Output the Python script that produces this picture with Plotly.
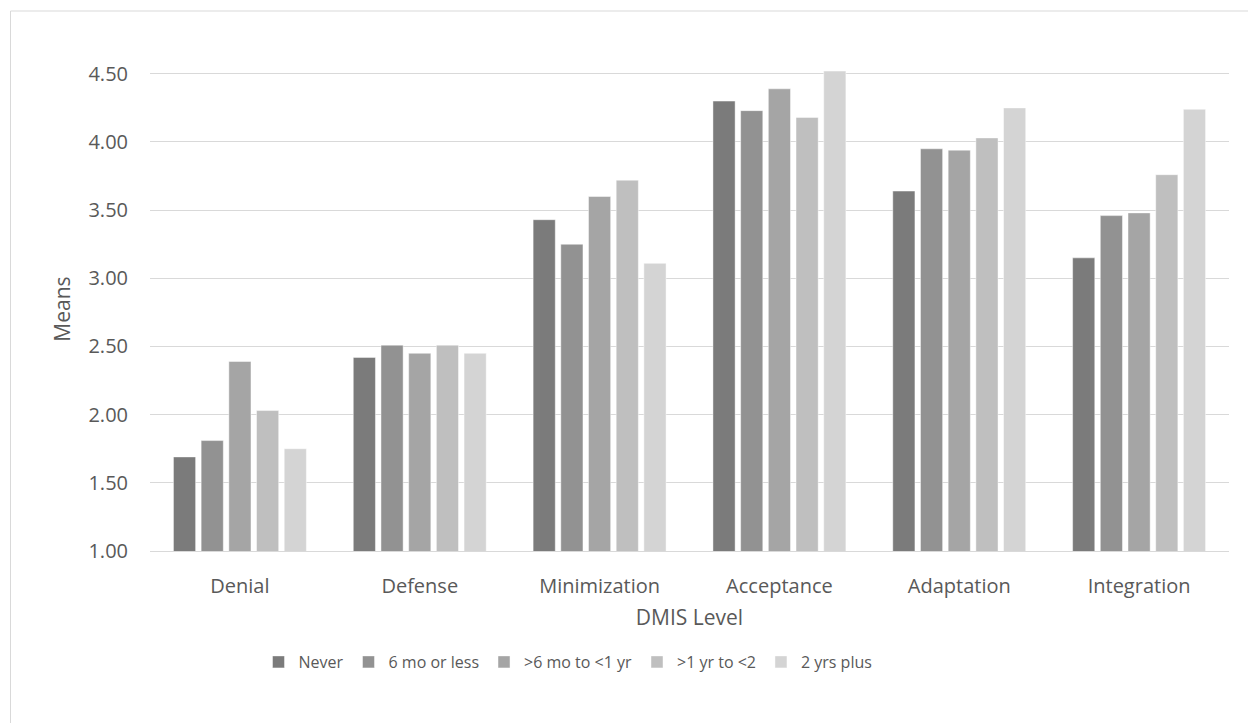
import plotly.graph_objects as go

# DMIS levels on the category axis
levels = ["Denial", "Defense", "Minimization", "Acceptance", "Adaptation", "Integration"]

# Mean scores per time-abroad group
never = [1.69, 2.42, 3.43, 4.30, 3.64, 3.15]
six_mo_or_less = [1.81, 2.51, 3.25, 4.23, 3.95, 3.46]
six_mo_to_1yr = [2.39, 2.45, 3.60, 4.39, 3.94, 3.48]
one_to_2yr = [2.03, 2.51, 3.72, 4.18, 4.03, 3.76]
two_yrs_plus = [1.75, 2.45, 3.11, 4.52, 4.25, 4.24]

series_names = ["Never", "6 mo or less", ">6 mo to <1 yr", ">1 yr to <2", "2 yrs plus"]
series_values = [never, six_mo_or_less, six_mo_to_1yr, one_to_2yr, two_yrs_plus]
series_colors = ["#7b7b7b", "#929292", "#a5a5a5", "#bfbfbf", "#d4d4d4"]

y_ticks = [1.0, 1.5, 2.0, 2.5, 3.0, 3.5, 4.0, 4.5]

FONT = "Open Sans"
TEXT = "#595959"
GRID = "#d9d9d9"

fig = go.Figure()
for name, vals, col in zip(series_names, series_values, series_colors):
    fig.add_trace(go.Bar(
        x=levels, y=vals, name=name,
        marker=dict(color=col, line=dict(color="rgba(255,255,255,0.45)", width=1)),
    ))

W, H = 1248, 723
L, R, T, B = 150, 19, 67, 172
pw, ph = W - L - R, H - T - B


def px_x(p):
    return (p - L) / pw


def px_y(p):
    return (H - B - p) / ph


fig.update_layout(
    width=W, height=H,
    margin=dict(l=L, r=R, t=T, b=B, autoexpand=False),
    paper_bgcolor="white", plot_bgcolor="white",
    font=dict(family=FONT, color=TEXT, size=20),
    barmode="group", bargap=0.23, bargroupgap=0.2,
    showlegend=True,
    legend=dict(
        orientation="h", x=px_x(568), xanchor="center",
        y=px_y(662), yanchor="middle",
        font=dict(size=16, color=TEXT), itemwidth=30,
        traceorder="normal",
    ),
    xaxis=dict(
        showgrid=False, showline=True, linecolor=GRID, linewidth=1,
        ticks="", ticklabelstandoff=17,
        title=dict(text="DMIS Level", font=dict(size=21, color=TEXT), standoff=12),
    ),
    yaxis=dict(
        range=[1.0, 4.55], tickvals=y_ticks, tickformat=".2f",
        showgrid=True, gridcolor=GRID, gridwidth=1, zeroline=False,
        showline=False, ticks="", ticklabelstandoff=21,
        title=dict(text="Means", font=dict(size=21, color=TEXT), standoff=12),
    ),
    shapes=[dict(
        type="rect", xref="paper", yref="paper",
        x0=px_x(10.5), y0=px_y(740), x1=px_x(1262), y1=px_y(11),
        line=dict(color=GRID, width=1), fillcolor="rgba(0,0,0,0)", layer="below",
    )],
)

fig.write_html("out.html")
